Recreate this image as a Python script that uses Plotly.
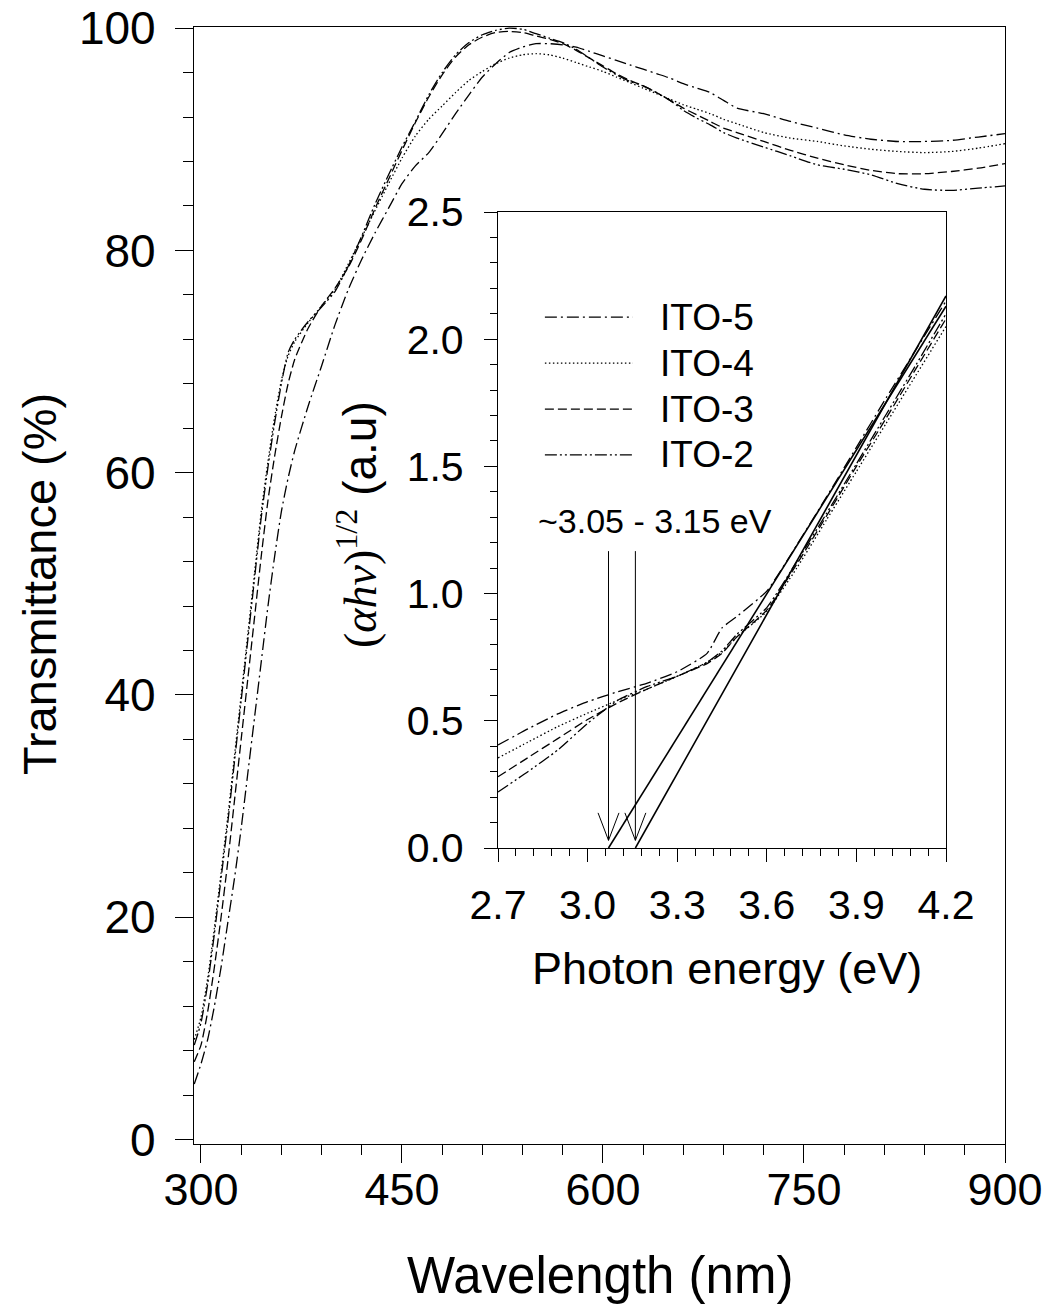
import plotly.graph_objects as go

# --- main panel: transmittance spectra ---
wavelength = [295, 300, 305, 310, 315, 320, 325, 330, 335, 340, 345, 350, 355, 360, 365, 370,
              380, 390, 400, 410, 420, 430, 440, 450, 460, 470, 480, 490, 500, 510, 520, 530,
              540, 550, 560, 570, 580, 590, 600, 610, 620, 630, 640, 650, 660, 670, 680, 690,
              700, 720, 740, 760, 780, 800, 820, 840, 860, 880, 900]

t_ito5 = [5.0, 6.8, 9.0, 12.0, 15.5, 19.5, 23.5, 28.0, 33.0, 38.0, 43.0, 48.0, 52.5, 56.5, 59.5, 62.0,
          66.0, 69.6, 73.3, 76.5, 79.2, 81.6, 83.8, 86.0, 87.6, 88.8, 90.5, 92.3, 94.0, 95.6, 96.8, 97.8,
          98.3, 98.6, 98.6, 98.5, 98.3, 97.9, 97.5, 97.1, 96.7, 96.3, 95.9, 95.5, 95.0, 94.6, 94.2, 93.5,
          92.8, 92.3, 91.6, 91.0, 90.4, 90.0, 89.8, 89.8, 89.9, 90.2, 90.5]

t_ito4 = [9.0, 11.0, 14.5, 19.0, 24.0, 29.0, 34.5, 40.0, 45.5, 51.0, 56.5, 61.0, 65.0, 68.3, 70.5, 71.8,
          73.5, 75.0, 76.5, 78.8, 81.2, 83.6, 86.0, 88.3, 90.3, 91.8, 93.0, 94.2, 95.3, 96.1, 96.8, 97.3,
          97.6, 97.7, 97.6, 97.3, 96.9, 96.5, 96.1, 95.6, 95.1, 94.6, 94.1, 93.6, 93.1, 92.7, 92.3, 91.8,
          91.4, 90.6, 90.1, 89.8, 89.4, 89.1, 88.9, 88.8, 88.9, 89.2, 89.6]

t_ito3 = [7.0, 8.5, 11.5, 15.5, 20.0, 25.0, 30.5, 36.0, 41.5, 47.0, 52.5, 57.5, 61.5, 65.0, 68.0, 70.2,
          73.0, 75.0, 76.6, 78.5, 81.0, 83.8, 86.4, 89.0, 91.5, 93.8, 95.8, 97.4, 98.5, 99.2, 99.6, 99.7,
          99.6, 99.3, 99.0, 98.6, 98.0, 97.3, 96.6, 95.9, 95.3, 94.8, 94.2, 93.5, 92.8, 92.2, 91.6, 91.0,
          90.6, 89.8, 89.0, 88.3, 87.7, 87.2, 86.9, 86.9, 87.1, 87.4, 87.8]

t_ito2 = [8.5, 10.5, 14.0, 18.5, 23.5, 28.5, 34.0, 39.5, 45.0, 50.5, 56.0, 60.5, 64.5, 68.0, 70.8, 72.0,
          73.6, 74.9, 76.3, 78.6, 81.3, 84.2, 86.8, 89.3, 91.6, 94.0, 96.0, 97.6, 98.7, 99.4, 99.8, 100.0,
          99.9, 99.5, 99.1, 98.7, 98.1, 97.3, 96.5, 95.8, 95.2, 94.8, 94.2, 93.5, 92.6, 91.9, 91.3, 90.6,
          90.1, 89.3, 88.5, 87.7, 87.3, 86.8, 86.0, 85.5, 85.4, 85.6, 85.8]

# --- inset: (alpha h nu)^1/2 vs photon energy ---
energy = [2.70, 2.80, 2.90, 3.00, 3.10, 3.20, 3.30, 3.40, 3.45, 3.50, 3.60, 3.70, 3.80, 3.90, 4.00, 4.10, 4.20]

a_ito5 = [0.405, 0.468, 0.527, 0.575, 0.614, 0.648, 0.693, 0.765, 0.865, 0.910, 1.010, 1.190, 1.380, 1.575, 1.770, 1.960, 2.150]
a_ito4 = [0.354, 0.416, 0.477, 0.530, 0.580, 0.625, 0.675, 0.730, 0.770, 0.830, 0.930, 1.100, 1.290, 1.480, 1.670, 1.860, 2.050]
a_ito3 = [0.280, 0.355, 0.430, 0.505, 0.570, 0.625, 0.675, 0.725, 0.765, 0.830, 0.935, 1.115, 1.305, 1.500, 1.690, 1.885, 2.080]
a_ito2 = [0.220, 0.300, 0.385, 0.490, 0.580, 0.635, 0.675, 0.730, 0.775, 0.840, 0.945, 1.125, 1.315, 1.510, 1.705, 1.900, 2.100]

# linear fits extrapolated to zero: band gap intercepts and end values at 4.2 eV
gap_energy = [3.07, 3.16]
fit_end_energy = 4.2
fit_end_value = [2.13, 2.17]
arrow_top = 1.167

samples = ["ITO-5", "ITO-4", "ITO-3", "ITO-2"]
DASH = {
    "ITO-5": "12px,4px,2px,4px",
    "ITO-4": "1.5px,2.5px",
    "ITO-3": "9px,4px",
    "ITO-2": "12px,3px,2px,3px,2px,3px",
}

FONT = "Arial, Liberation Sans, sans-serif"
SERIF = "Liberation Serif"

W, H = 1044, 1310
L, R, T, B = 194, 39, 27, 166
PW, PH = W - L - R, H - T - B      # 811 x 1117 plot area


def px(x):   # pixel -> paper x
    return (x - L) / PW


def py(y):   # pixel -> paper y
    return (H - B - y) / PH


fig = go.Figure()

for name, t in zip(samples, [t_ito5, t_ito4, t_ito3, t_ito2]):
    fig.add_trace(go.Scatter(
        x=wavelength, y=t, mode="lines", name=name, showlegend=False,
        line=dict(color="black", width=1.3, dash=DASH[name], shape="spline", smoothing=0.6),
        xaxis="x", yaxis="y"))

for name, a in zip(samples, [a_ito5, a_ito4, a_ito3, a_ito2]):
    fig.add_trace(go.Scatter(
        x=energy, y=a, mode="lines", name=name, showlegend=False,
        line=dict(color="black", width=1.3, dash=DASH[name], shape="spline", smoothing=0.5),
        xaxis="x2", yaxis="y2"))

# fit lines
for eg, yend in zip(gap_energy, fit_end_value):
    fig.add_trace(go.Scatter(
        x=[eg, fit_end_energy], y=[0, yend], mode="lines", showlegend=False,
        line=dict(color="black", width=1.6), xaxis="x2", yaxis="y2"))

# arrows pointing to the band gap (open V heads)
hw, hh, tip = 0.035, 0.108, 0.03
for eg in gap_energy:
    fig.add_trace(go.Scatter(
        x=[eg, eg, None, eg - hw, eg, eg + hw],
        y=[arrow_top, tip, None, tip + hh, tip, tip + hh],
        mode="lines", showlegend=False,
        line=dict(color="black", width=1), xaxis="x2", yaxis="y2"))

# hand-made legend inside the inset
leg_x0, leg_x1, leg_text_x = 2.857, 3.152, 3.236
leg_rows = [2.087, 1.906, 1.725, 1.545]
for name, ry in zip(samples, leg_rows):
    fig.add_shape(type="line", xref="x2", yref="y2", x0=leg_x0, x1=leg_x1, y0=ry, y1=ry,
                  line=dict(color="black", width=1.2, dash=DASH[name]))
    fig.add_annotation(xref="x2", yref="y2", x=leg_text_x, y=ry, text=name, showarrow=False,
                       xanchor="left", yanchor="middle", font=dict(size=37, family=FONT, color="black"))

fig.add_annotation(xref="x2", yref="y2", x=3.226, y=1.285, text="~3.05 - 3.15 eV", showarrow=False,
                   xanchor="center", yanchor="middle", font=dict(size=34, family=FONT, color="black"))

# axis titles
fig.add_annotation(xref="paper", yref="paper", x=px(600), y=py(1275),
                   text="Wavelength (nm)", showarrow=False, xanchor="center", yanchor="middle",
                   font=dict(size=51, family=FONT, color="black"))
fig.add_annotation(xref="paper", yref="paper", x=px(39), y=py(584),
                   text="Transmittance (%)", showarrow=False, textangle=-90,
                   xanchor="center", yanchor="middle",
                   font=dict(size=47, family=FONT, color="black"))
fig.add_annotation(xref="paper", yref="paper", x=px(727), y=py(968),
                   text="Photon energy (eV)", showarrow=False, xanchor="center", yanchor="middle",
                   font=dict(size=45, family=FONT, color="black"))
fig.add_annotation(xref="paper", yref="paper", x=px(357), y=py(525),
                   text=f"<span style=\"font-family:{SERIF}\">(<i>αhν</i>)<sup>1/2</sup></span> (a.u)",
                   showarrow=False, textangle=-90, xanchor="center", yanchor="middle",
                   font=dict(size=46, family=FONT, color="black"))

axis_common = dict(showline=True, linecolor="black", linewidth=1.3, mirror=True, showgrid=False,
                   zeroline=False, ticks="outside", tickcolor="black", automargin=False,
                   ticklabeloverflow="allow")

fig.update_layout(
    width=W, height=H,
    margin=dict(l=L, r=R, t=T, b=B),
    paper_bgcolor="white", plot_bgcolor="white",
    font=dict(family=FONT, color="black"),
    showlegend=False,
    xaxis=dict(**axis_common, domain=[0, 1], range=[294.8, 900],
               tickvals=[300, 450, 600, 750, 900], ticklen=18, tickwidth=1.3,
               minor=dict(dtick=30, tick0=300, ticks="outside", ticklen=10, tickwidth=1, tickcolor="black"),
               tickfont=dict(size=45), ticklabelstandoff=-12),
    yaxis=dict(**axis_common, domain=[0, 1], range=[-0.4, 100.1],
               dtick=20, tick0=0, ticklen=18, tickwidth=1.3,
               minor=dict(dtick=4, tick0=0, ticks="outside", ticklen=10, tickwidth=1, tickcolor="black"),
               tickfont=dict(size=46), ticklabelstandoff=10),
    xaxis2=dict(**axis_common, domain=[px(498), px(946)], anchor="y2", range=[2.7, 4.2],
                dtick=0.3, tick0=2.7, tickformat=".1f", ticklen=13, tickwidth=1.2,
                minor=dict(dtick=0.06, tick0=2.7, ticks="outside", ticklen=7, tickwidth=1, tickcolor="black"),
                tickfont=dict(size=41), ticklabelstandoff=8),
    yaxis2=dict(**axis_common, domain=[py(848), py(212)], anchor="x2", range=[0, 2.5],
                dtick=0.5, tick0=0, tickformat=".1f", ticklen=13, tickwidth=1.2,
                minor=dict(dtick=0.1, tick0=0, ticks="outside", ticklen=7, tickwidth=1, tickcolor="black"),
                tickfont=dict(size=41), ticklabelstandoff=12),
)

# drop the browser's default 8px body margin so the figure fills the window exactly
fig.write_html("out.html", config={"displayModeBar": False},
               post_script="document.body.style.margin='0';document.body.style.overflow='hidden';")
